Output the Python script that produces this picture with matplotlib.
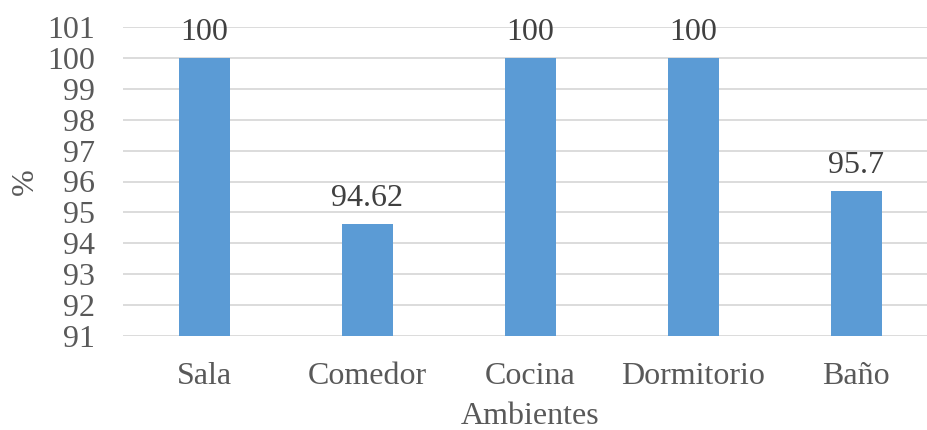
import numpy as np
import matplotlib.pyplot as plt

# data
ambientes = ["Sala", "Comedor", "Cocina", "Dormitorio", "Baño"]
porcentaje = [100, 94.62, 100, 100, 95.7]
etiquetas = ["100", "94.62", "100", "100", "95.7"]
y_ticks = list(range(91, 102))

plt.rcParams['font.family'] = ['Liberation Serif', 'DejaVu Serif']

fig = plt.figure(figsize=(9.28, 4.30), dpi=100)
# plot area runs a bit past the right edge, like in the reference
ax = fig.add_axes([123 / 928, 1 - 336 / 430, 814.5 / 928, 309 / 430])

x = np.arange(len(ambientes))
ax.bar(x, porcentaje, width=0.313, color="#5B9BD5", zorder=3)

# value labels above the bars
for xi, val, lab in zip(x, porcentaje, etiquetas):
    ax.annotate(lab, (xi, val), xytext=(0, 13), textcoords="offset points",
                ha="center", va="baseline", fontsize=23, color="#404040")

ax.set_xlim(-0.5, len(ambientes) - 0.5)
ax.set_ylim(91, 101)
ax.set_yticks(y_ticks)
ax.set_xticks(x)
ax.set_xticklabels(ambientes)

ax.grid(axis="y", color="#D9D9D9", linewidth=1.3, zorder=0)
for s in ax.spines.values():
    s.set_visible(False)
ax.tick_params(axis="both", length=0, labelsize=23, labelcolor="#595959")
ax.tick_params(axis="y", pad=20)
ax.tick_params(axis="x", pad=19)

ax.set_ylabel("%", fontsize=23, color="#595959", va="center")
ax.yaxis.set_label_coords(-0.12, 0.5)
ax.set_xlabel("Ambientes", fontsize=23, color="#595959", va="center")
ax.xaxis.set_label_coords(0.5, -0.262)

fig.savefig("out.png", dpi=100)
